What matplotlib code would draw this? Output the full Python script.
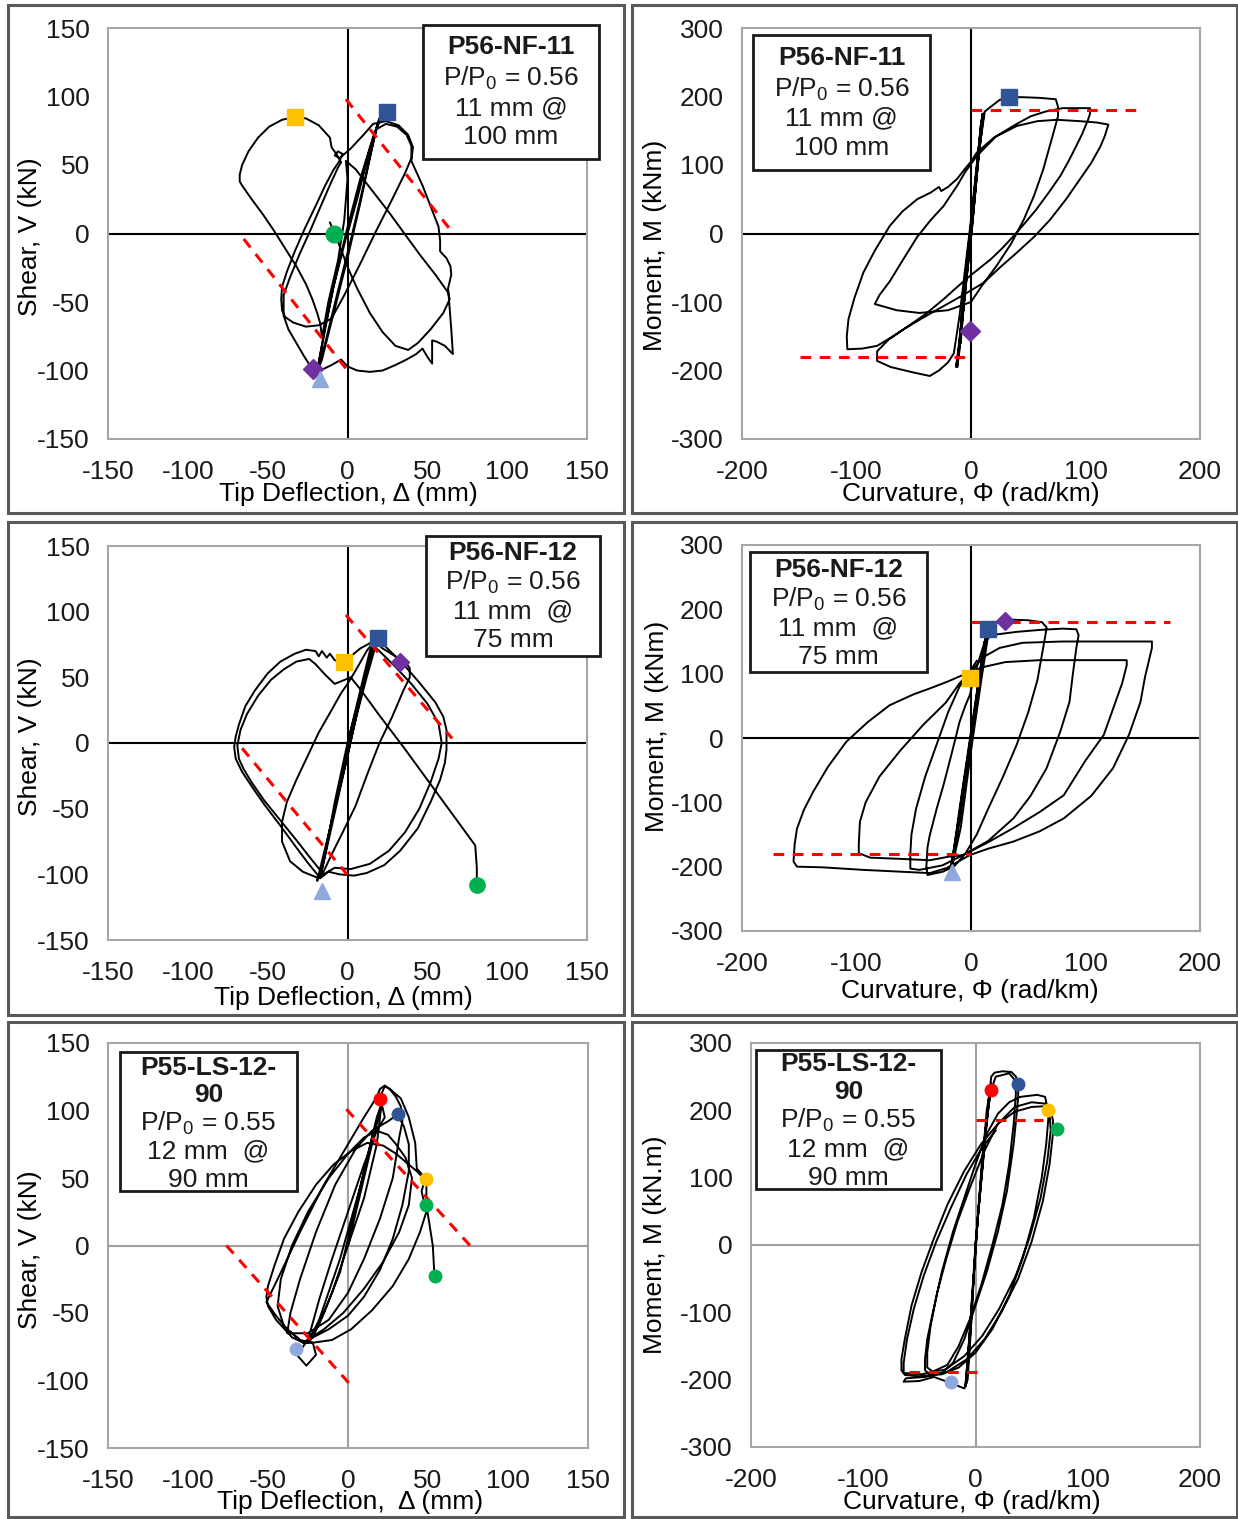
import numpy as np
import matplotlib
matplotlib.use("Agg")
import matplotlib.pyplot as plt
from matplotlib.patches import Rectangle

plt.rcParams["font.family"] = ["Liberation Sans", "DejaVu Sans"]
plt.rcParams["mathtext.fontset"] = "custom"
plt.rcParams["mathtext.rm"] = "Liberation Sans"
plt.rcParams["axes.unicode_minus"] = False
plt.rcParams["text.color"] = "#1a1a1a"

# ------------------------------------------------------------------
# data (x = deflection / curvature, y = shear / moment)
# ------------------------------------------------------------------
nf11_shear = np.array([
    (0, 0), (6, 25), (12, 52), (17, 72), (20, 84), (14, 62), (6, 28), (-2, -8), (-9, -40), (-14, -70),
    (-17, -88), (-19, -100), (-14, -80), (-6, -42), (2, -5), (10, 35), (16, 66), (19, 80), (22, 86), (17, 74),
    (8, 40), (-1, 0), (-8, -35), (-14, -68), (-18, -94), (-20, -104), (-16, -92), (-8, -55), (0, -18), (8, 22),
    (14, 55), (18, 76), (24, 80), (31, 78), (37, 72), (40, 64), (40, 55), (36, 44), (28, 25), (18, 2),
    (8, -22), (-2, -45), (-10, -62), (-18, -67), (-26, -68), (-34, -65), (-39, -61), (-41, -56), (-41.5, -48),
    (-41, -39), (-38, -28), (-33, -13), (-27, 3), (-20, 20), (-14, 35), (-9, 46), (-5, 53), (-3, 58), (-6, 60),
    (-8, 57), (-5, 55), (2, 62), (10, 72), (16, 80), (24, 82), (32, 79), (38, 72), (41, 63), (40, 53),
    (47, 35), (53, 17), (57, 5), (58, -5), (58, -13), (62, -18), (64.5, -24), (65, -30), (63, -40), (64, -55),
    (65, -70), (66, -88), (61, -82), (56, -79), (53, -78), (53, -87), (53, -95), (50, -90), (47, -84), (43, -88),
    (37, -92), (30, -96), (22, -100), (14, -101), (6, -100), (0, -97), (-4, -92), (-10, -96), (-17, -100),
    (-22, -99), (-27, -90), (-32, -80), (-37, -70), (-40, -60), (-40, -45), (-36, -32), (-30, -15), (-23, 3),
    (-16, 22), (-10, 38), (-6, 48), (-4, 52), (-7, 58), (-10, 63), (-11, 70), (-18, 79), (-26, 84), (-33, 85),
    (-41, 83), (-49, 78), (-56, 70), (-62, 60), (-66, 50), (-67.5, 43), (-67.5, 38), (-66, 35), (-60, 25),
    (-53, 14), (-46, 2), (-39, -11), (-32, -24), (-26, -37), (-22, -48), (-19, -58), (-17, -66), (-16, -76),
    (-12, -50), (-6, -20), (-2, 10), (0, 40), (-1, 53), (5, 47), (15, 32), (25, 17), (35, 1), (45, -15),
    (55, -30), (63, -43), (64, -48), (60, -58), (52, -70), (44, -80), (38, -85), (30, -82), (22, -72),
    (14, -58), (6, -40), (1, -27), (-4, -12), (-8, 0), (-11, 8),
])

nf11_moment = np.array([
    (0, 0), (5, 90), (10, 170), (7, 120), (1, 10), (-6, -100), (-12, -190), (-8, -130), (1, 10), (6, 100),
    (11, 175), (8, 140), (-2, -30), (-9, -150), (-13, -195), (-9, -140), (0, 0), (7, 120), (12, 178),
    (18, 186), (25, 195), (33, 199), (45, 199), (60, 198), (74, 196), (76, 185), (76, 171), (70, 135),
    (63, 93), (55, 55), (46, 20), (35, -15), (22, -48), (10, -75), (0, -100), (-20, -112), (-45, -116),
    (-65, -112), (-84, -103), (-80, -90), (-71, -70), (-60, -40), (-47, -5), (-35, 20), (-24, 40), (-12, 70),
    (-5, 90), (5, 113), (22, 142), (40, 160), (52, 171), (65, 178), (80, 183), (104, 183), (104, 175),
    (102, 165), (97, 145), (92, 128), (85, 105), (78, 84), (68, 60), (57, 35), (47, 15), (37, -4), (27, -22),
    (17, -38), (8, -50), (-1, -62), (-12, -78), (-24, -96), (-40, -118), (-59, -140), (-70, -152), (-82, -164),
    (-95, -168), (-108, -169), (-108.5, -150), (-107, -125), (-102, -95), (-94, -57), (-84, -25), (-71, 11),
    (-60, 32), (-47, 50), (-35, 60), (-28, 68), (-26, 62), (-20, 68), (-12, 80), (-5, 95), (0, 105), (5, 118),
    (20, 140), (40, 157), (58, 164), (75, 166), (95, 164), (110, 162), (120, 159), (117, 143), (113, 127),
    (105, 103), (95, 79), (83, 50), (69, 20), (55, -5), (40, -28), (25, -50), (11, -72), (-7, -90), (-24, -106),
    (-42, -123), (-59, -140), (-72, -155), (-82, -172), (-82, -186), (-70, -195), (-50, -203), (-36, -208),
    (-28, -200), (-20, -188), (-15, -175), (-10, -120), (-5, -50), (0, 20), (5, 100), (9, 160), (10, 175),
    (6, 110), (0, 5), (-6, -90), (-11, -180), (-8, -120), (2, 30), (8, 140), (11, 172), (4, 80), (-4, -60),
    (-10, -170), (-12, -195), (-5, -60), (3, 60), (9, 165), (5, 95), (-3, -40), (-9, -160),
])

nf12_shear = np.array([
    (0, 0), (8, 40), (14, 70), (17, 78), (10, 45), (0, 0), (-8, -45), (-14, -85), (-17, -102), (-12, -75),
    (0, -10), (9, 40), (16, 75), (19, 80), (12, 50), (-2, -15), (-10, -60), (-16, -95), (-19, -105), (-12, -70),
    (0, -10), (10, 45), (17, 78), (22, 72), (30, 66), (36, 62), (39, 57), (39, 50), (35, 40), (28, 20), (20, 0),
    (12, -25), (5, -48), (-3, -68), (-10, -85), (-15, -98), (-18, -103), (-28, -98), (-36, -90), (-41, -75),
    (-41, -60), (-38, -45), (-32, -28), (-25, -10), (-18, 8), (-10, 25), (-4, 38), (0, 45), (5, 55), (12, 70),
    (18, 80), (25, 72), (35, 60), (45, 46), (55, 31), (60, 20), (62, 10), (62, -5), (61, -15), (58, -28),
    (52, -45), (44, -65), (33, -82), (23, -93), (12, -99), (4, -101), (-5, -100), (-12, -98), (-17, -103),
    (-25, -91), (-33, -78), (-42, -63), (-52, -47), (-60, -33), (-66, -22), (-70, -12), (-71, -3), (-70, 5),
    (-68, 14), (-64, 28), (-58, 40), (-50, 53), (-42, 62), (-33, 68), (-26, 71), (-20, 70), (-18, 66),
    (-16, 70), (-13, 65), (-11, 68), (-8, 63), (-4, 62), (0, 64), (8, 72), (14, 76), (20, 70), (30, 58),
    (40, 45), (50, 30), (57, 15), (59, 0), (57, -12), (52, -30), (45, -50), (36, -68), (26, -82), (14, -92),
    (2, -96), (-8, -95), (-15, -100), (-23, -88), (-32, -74), (-42, -59), (-52, -44), (-60, -30), (-65, -20),
    (-68, -12), (-69, -2), (-67, 10), (-63, 22), (-56, 36), (-48, 48), (-40, 56), (-32, 62), (-24, 64),
    (-20, 60), (-14, 52), (-8, 45), (2, 50), (8, 41), (20, 21), (35, -3), (50, -28), (65, -53), (80, -78),
    (81, -95), (81, -108),
])

nf12_moment = np.array([
    (0, 0), (6, 80), (12, 150), (15, 170), (9, 100), (0, 0), (-8, -100), (-15, -180), (-18, -205), (-12, -140),
    (0, 0), (8, 100), (14, 165), (10, 120), (-2, -20), (-10, -130), (-17, -200), (-10, -110), (0, 10),
    (10, 130), (16, 172), (9, 90), (0, -20), (-9, -140), (-16, -195), (-8, -90), (3, 40), (12, 150), (16, 172),
    (25, 182), (35, 184), (50, 183), (62, 180), (66, 172), (65, 160), (62, 130),
    (58, 90), (50, 40), (40, -10), (28, -60), (15, -110), (5, -150), (-5, -180), (-15, -200), (-25, -208),
    (-38, -213), (-39, -200), (-38, -170), (-36, -151), (-30, -110), (-24, -73), (-17, -25), (-10, 25),
    (-5, 50), (-1, 67), (5, 110), (12, 150), (18, 160), (40, 165), (60, 168), (80, 170), (92, 169),
    (94, 160), (92, 140), (89, 100), (86, 56), (78, 10), (66, -47), (52, -90), (37, -125), (15, -160),
    (-7, -182), (-25, -198), (-45, -205), (-53, -203), (-53, -180), (-52, -150), (-48, -110), (-40, -60),
    (-30, -10), (-20, 40), (-10, 80), (-1, 100), (10, 125), (25, 140), (45, 148), (80, 150), (120, 150),
    (158, 150), (158, 140), (156, 125), (152, 95), (148, 56), (138, 5), (124, -47), (105, -90), (81, -125),
    (60, -145), (37, -161), (15, -172), (-1, -182), (-21, -202), (-36, -210), (-94, -205), (-130, -201),
    (-152, -200), (-155, -192), (-154, -165), (-152, -141), (-146, -112), (-138, -84), (-125, -45),
    (-109, -6), (-90, 25), (-71, 51), (-50, 68), (-36, 77), (-20, 88), (-7, 98), (10, 110), (30, 118),
    (60, 121), (100, 121), (136, 121), (136, 113), (132, 85), (126, 55), (116, 5), (100, -35), (81, -89),
    (60, -115), (37, -140), (15, -162), (-7, -182), (-18, -184), (-36, -190), (-60, -188), (-88, -186),
    (-98, -179), (-98, -165), (-97, -130), (-92, -100), (-80, -60), (-62, -20), (-42, 20), (-22, 55),
    (-10, 85), (-2, 100), (5, 120),
])

ls_shear = np.array([
    (0, 0), (8, 40), (15, 75), (20, 100), (22, 108), (15, 80), (5, 30), (-5, -20), (-15, -50), (-22, -68),
    (-25, -72), (-18, -55), (-5, -10), (8, 45), (18, 95), (21, 105), (18, 75), (10, 35), (0, 0), (-10, -35),
    (-18, -58), (-25, -70), (-18, -40), (-10, -10), (0, 25), (10, 60), (18, 85), (23, 95), (20, 110),
    (23, 118), (26, 116), (30, 110), (33, 103), (34, 92), (32, 80), (28, 50), (20, 20), (10, -10), (0, -35),
    (-12, -55), (-25, -65), (-38, -65), (-36, -50), (-30, -25), (-20, 10), (-8, 45), (5, 72), (15, 85),
    (25, 92), (31, 97), (35, 88), (38, 75), (38, 55), (34, 30), (28, 5), (20, -18), (10, -38), (0, -52),
    (-12, -62), (-25, -70), (-32, -81), (-26, -89), (-20, -81), (-22, -72), (-28, -72), (-40, -60),
    (-44, -45), (-42, -25), (-35, 0), (-25, 25), (-12, 50), (0, 68), (10, 80), (18, 85), (25, 82), (30, 75),
    (36, 65), (40, 50), (38, 30), (32, 10), (22, -12), (10, -32), (-3, -50), (-15, -62), (-28, -72),
    (-35, -68), (-45, -55), (-50, -45), (-51, -38), (-50, -30), (-46, -15), (-40, 5), (-31, 25), (-20, 45),
    (-9, 60), (2, 70), (12, 76), (22, 74), (30, 68), (38, 60), (43, 55), (48, 49), (46, 40), (49, 25),
    (45, 10), (38, -10), (28, -30), (15, -48), (2, -62), (-10, -70), (-22, -72), (-30, -70), (-38, -62),
    (-45, -52), (-51, -42), (-42, -20), (-30, 10), (-15, 45), (0, 75), (10, 95), (18, 110), (20, 116),
    (23, 118.5), (26, 116), (33, 109), (38, 95), (42, 76), (43, 57), (49, 49), (49, 30), (51, 15), (53, 0),
    (54, -22),
])

ls_moment = np.array([
    (0, 0), (5, 100), (10, 200), (13, 230), (8, 150), (0, 0), (-4, -100), (-7, -180), (-8, -205), (-4, -120),
    (0, 0), (6, 120), (12, 220), (14, 240), (10, 180), (2, 40), (-3, -80), (-7, -170), (-9, -210), (-5, -130),
    (2, 40), (9, 170), (14, 250), (17, 256), (24, 258), (32, 257), (36, 250), (38, 238), (38, 220), (37, 200),
    (34, 150), (28, 80), (20, 20), (10, -40), (0, -90), (-10, -140), (-20, -175), (-30, -190), (-40, -193),
    (-45, -186), (-45, -170), (-43, -140), (-38, -100), (-30, -40), (-20, 20), (-10, 70), (0, 120), (10, 165),
    (20, 195), (30, 212), (40, 220), (55, 223), (62, 220), (64, 205), (65, 190), (63, 150), (59, 100),
    (52, 40), (42, -20), (30, -75), (15, -125), (0, -160), (-15, -182), (-30, -192), (-50, -195), (-63, -193),
    (-66, -186), (-66, -170), (-63, -140), (-57, -90), (-48, -40), (-37, 10), (-25, 60), (-10, 110), (5, 150),
    (20, 180), (35, 198), (50, 205), (60, 206), (67, 200), (69, 185), (69, 165), (66, 120), (60, 65), (50, 5),
    (38, -50), (23, -100), (8, -140), (-8, -170), (-25, -188), (-45, -196), (-62, -198), (-64, -203),
    (-50, -202), (-37, -196), (-22, -205), (-10, -213), (-7, -200), (-5, -150), (-2, -60), (2, 40), (6, 130),
    (11, 200), (14, 230), (18, 250), (30, 255), (35, 245), (36, 225), (34, 180), (30, 120), (24, 60),
    (15, 0), (5, -60), (-5, -110), (-15, -150), (-25, -178), (-38, -188), (-43, -182), (-43, -160),
    (-40, -120), (-34, -70), (-26, -20), (-16, 35), (-5, 85), (8, 140), (20, 180), (35, 205), (50, 212),
    (62, 210), (66, 195), (67, 170), (64, 125), (58, 70), (48, 10), (36, -45), (21, -95), (6, -135),
    (-10, -165), (-27, -185), (-48, -192), (-64, -190), (-64, -175), (-61, -140), (-55, -95), (-46, -45),
    (-35, 5), (-22, 55), (-8, 105), (6, 145), (18, 170),
])

# P-delta / capacity reference lines (red dashed)
nf11_shear_ref = [[(-1, 98), (65, 2)], [(-65, -4), (0, -100)]]
nf11_moment_ref = [[(0, 181), (150, 181)], [(-149, -180.5), (0, -180.5)]]
nf12_shear_ref = [[(-1, 97.5), (65.5, 3.5)], [(-66, -4), (0, -100.5)]]
nf12_moment_ref = [[(0, 181), (174, 181)], [(-172.6, -180), (0, -180)]]
ls_shear_ref = [[(-1, 101), (77, -1)], [(-76, 0), (1, -102.5)]]
ls_moment_ref = [[(0, 185.6), (60, 185.6)], [(-59, -189), (1, -189)]]

# damage-state markers: x, y, marker, colour
YEL, BLU, GRN, PUR, LBL, RED = "#FFC000", "#2F5597", "#00B050", "#7030A0", "#8EA9DB", "#FF0000"
nf11_shear_pts = [(-33, 85, "s", YEL), (24.5, 89, "s", BLU), (-8.5, 0, "o", GRN),
                  (-21.7, -99, "D", PUR), (-17, -106, "^", LBL)]
nf11_moment_pts = [(33.5, 199.5, "s", BLU), (-1, -143, "D", PUR)]
nf12_shear_pts = [(-2, 62, "s", YEL), (19, 80, "s", BLU), (33, 62, "D", PUR),
                  (-16, -113, "^", LBL), (81, -108, "o", GRN)]
nf12_moment_pts = [(-1, 94, "s", YEL), (15, 169, "s", BLU), (29.7, 182, "D", PUR), (-17, -208, "^", LBL)]
ls_shear_pts = [(20, 108.6, "o", RED), (31.5, 97.5, "o", BLU), (48.8, 49, "o", YEL),
                (48.8, 30, "o", GRN), (54.4, -22.7, "o", GRN), (-32.5, -76.5, "o", LBL)]
ls_moment_pts = [(13.4, 230, "o", RED), (37.7, 239, "o", BLU), (65, 200.5, "o", YEL),
                 (73, 172, "o", GRN), (-22, -204, "o", LBL)]

shear_ticks = [-150, -100, -50, 0, 50, 100, 150]
defl_ticks = [-150, -100, -50, 0, 50, 100, 150]
moment_ticks = [-300, -200, -100, 0, 100, 200, 300]
curv_ticks = [-200, -100, 0, 100, 200]

# ------------------------------------------------------------------
W, H = 1238, 1519
fig = plt.figure(figsize=(W / 100, H / 100), dpi=100)
FS = 19


def axes_px(x0, y0, x1, y1):
    return fig.add_axes([x0 / W, 1 - y1 / H, (x1 - x0) / W, (y1 - y0) / H])


def frame_px(x0, y0, x1, y1, **kw):
    fig.patches.append(Rectangle((x0 / W, 1 - y1 / H), (x1 - x0) / W, (y1 - y0) / H,
                                 transform=fig.transFigure, **kw))


def panel(box, trace, refs, pts, xt, yt, xlabel, ylabel, xlab_px, ylab_px, zero_col, msize):
    x0, y0, x1, y1 = box
    ax = axes_px(*box)
    ax.set_xlim(xt[0], xt[-1])
    ax.set_ylim(yt[0], yt[-1])
    ax.set_xticks(xt)
    ax.set_yticks(yt)
    ax.tick_params(length=0, labelsize=FS, pad=13, colors="#1a1a1a")
    ax.tick_params(axis="x", pad=15)
    for s in ax.spines.values():
        s.set_color("#A6A6A6")
        s.set_linewidth(1.5)
    ax.axhline(0, color=zero_col, lw=1.5, zorder=1)
    ax.axvline(0, color=zero_col, lw=1.5, zorder=1)
    ax.plot(trace[:, 0], trace[:, 1], color="black", lw=1.4, zorder=2)
    for seg in refs:
        xs, ys = zip(*seg)
        ax.plot(xs, ys, color="#FF0000", lw=2.2, dashes=(3.5, 2.8), zorder=3)
    for x, y, m, c in pts:
        sz = msize if m != "D" else msize * 0.85
        ax.plot(x, y, marker=m, color=c, ms=sz, mec=c, ls="none", zorder=4, clip_on=False)
    ax.set_xlabel(xlabel, fontsize=FS)
    ax.set_ylabel(ylabel, fontsize=FS)
    ax.xaxis.set_label_coords((xlab_px[0] - x0) / (x1 - x0), (y1 - xlab_px[1]) / (y1 - y0))
    ax.yaxis.set_label_coords((ylab_px[0] - x0) / (x1 - x0), (y1 - ylab_px[1]) / (y1 - y0))
    ax.xaxis.label.set_va("center")
    ax.yaxis.label.set_va("center")
    return ax


def note_box(box, lines, ys, nbold):
    x0, y0, x1, y1 = box
    frame_px(x0, y0, x1, y1, facecolor="white", edgecolor="#1a1a1a", lw=2, zorder=5)
    cx = (x0 + x1) / 2
    for i, (txt, ly) in enumerate(zip(lines, ys)):
        fig.text(cx / W, 1 - ly / H, txt, ha="center", va="center", fontsize=FS,
                 fontweight="bold" if i < nbold else "normal", zorder=6)


# outer panel frames
for (fx0, fx1) in [(8, 624), (632, 1237)]:
    for (fy0, fy1) in [(5, 513), (522, 1015), (1022, 1517)]:
        frame_px(fx0, fy0, fx1, fy1, facecolor="none", edgecolor="#595959", lw=2.2, zorder=0)

DEFL = "Tip Deflection, \u0394 (mm)"
CURV = "Curvature, \u03a6 (rad/km)"
SHEAR = "Shear, V (kN)"

panel((108, 28, 587, 439), nf11_shear, nf11_shear_ref, nf11_shear_pts, defl_ticks, shear_ticks,
      DEFL, SHEAR, (348, 494), (30, 237), "black", 12)
panel((742, 28, 1200, 439), nf11_moment, nf11_moment_ref, nf11_moment_pts, curv_ticks, moment_ticks,
      CURV, "Moment, M (kNm)", (971, 494), (655, 245), "black", 12)
panel((108, 546, 587, 940), nf12_shear, nf12_shear_ref, nf12_shear_pts, defl_ticks, shear_ticks,
      DEFL, SHEAR, (343, 998), (30, 737), "black", 11)
panel((742, 545, 1200, 931), nf12_moment, nf12_moment_ref, nf12_moment_pts, curv_ticks, moment_ticks,
      CURV, "Moment, M (kNm)", (970, 991), (657, 726), "black", 11)
panel((108, 1043, 588, 1448), ls_shear, ls_shear_ref, ls_shear_pts, defl_ticks, shear_ticks,
      "Tip Deflection,  \u0394 (mm)", SHEAR, (350, 1502), (30, 1250), "#A0A0A0", 9)
panel((751, 1043, 1200, 1447), ls_moment, ls_moment_ref, ls_moment_pts, curv_ticks, moment_ticks,
      CURV, "Moment, M (kN.m)", (972, 1502), (655, 1245), "#A0A0A0", 9)

P0 = r"P/P$\mathregular{_0}$"
note_box((423, 25, 599, 159), ["P56-NF-11", P0 + " = 0.56", "11 mm @", "100 mm"], [47, 78, 108, 137], 1)
note_box((753, 35, 930, 170), ["P56-NF-11", P0 + " = 0.56", "11 mm @", "100 mm"], [58, 89, 118, 148], 1)
note_box((426, 536, 600, 656), ["P56-NF-12", P0 + " = 0.56", "11 mm  @", "75 mm"], [553, 582, 611, 640], 1)
note_box((750, 552, 927, 672), ["P56-NF-12", P0 + " = 0.56", "11 mm  @", "75 mm"], [570, 599, 628, 657], 1)
note_box((120, 1052, 297, 1191), ["P55-LS-12-", "90", P0 + " = 0.55", "12 mm  @", "90 mm"],
         [1068, 1095, 1123, 1151, 1180], 2)
note_box((756, 1050, 941, 1189), ["P55-LS-12-", "90", P0 + " = 0.55", "12 mm  @", "90 mm"],
         [1064, 1092, 1120, 1149, 1178], 2)

fig.savefig("out.png", dpi=100)
